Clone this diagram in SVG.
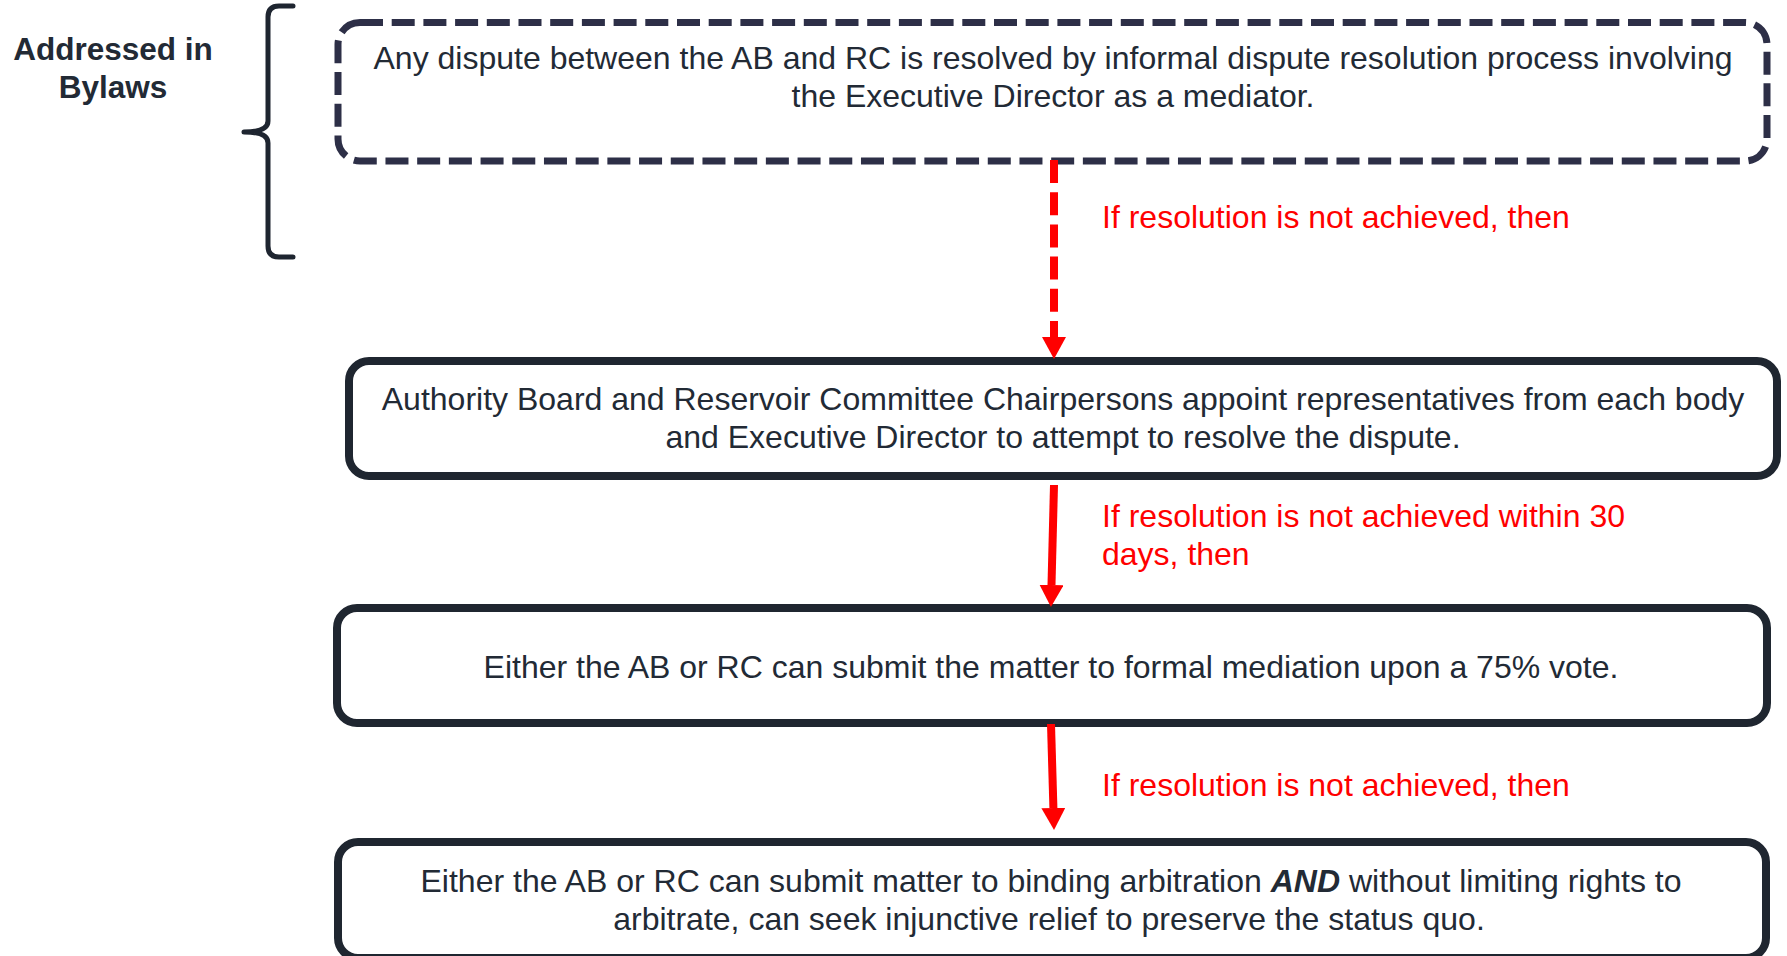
<svg xmlns="http://www.w3.org/2000/svg" width="1787" height="956" viewBox="0 0 1787 956">
  <style>
    .box { fill: #ffffff; stroke: #1f2630; stroke-width: 8; }
    .box-dashed { fill: #ffffff; stroke: #2d2f47; stroke-width: 7; stroke-dasharray: 23 8.7; }
    .txt { font-family: "Liberation Sans", Arial, sans-serif; font-size: 32px; fill: #222a35; text-anchor: middle; }
    .note { font-family: "Liberation Sans", Arial, sans-serif; font-size: 32px; fill: #ff0000; text-anchor: start; }
    .side { font-family: "Liberation Sans", Arial, sans-serif; font-size: 31.5px; font-weight: bold; fill: #222a35; text-anchor: middle; }
    .flow { fill: none; stroke: #ff0000; stroke-width: 8; }
    .brace { fill: none; stroke: #1e2530; stroke-width: 5; stroke-linecap: round; stroke-linejoin: round; }
  </style>
  <defs>
    <marker id="arrowhead" markerUnits="userSpaceOnUse" viewBox="0 0 22 24" markerWidth="22" markerHeight="24" refX="0" refY="12" orient="auto">
      <path d="M0,0 L22,12 L0,24 Z" fill="#ff0000"/>
    </marker>
  </defs>
  <rect width="1787" height="956" fill="#ffffff"/>

  <!-- Side annotation with curly brace -->
  <g id="bylaws-note">
    <text class="side" x="113" y="60">Addressed in</text>
    <text class="side" x="113" y="98">Bylaws</text>
    <path class="brace" d="M293,6 H279 Q268,6 268,17 V121 Q268,132 244,132 Q268,132 268,143 V246 Q268,257 279,257 H293"/>
  </g>

  <!-- Step 1: informal resolution -->
  <g id="step-informal">
    <rect class="box-dashed" x="338" y="22.5" width="1429" height="138.5" rx="22" ry="22"/>
    <text class="txt" x="1053" y="68.5">Any dispute between the AB and RC is resolved by informal dispute resolution process involving</text>
    <text class="txt" x="1053" y="106.5">the Executive Director as a mediator.</text>
  </g>

  <!-- Step 2: chairpersons appoint representatives -->
  <g id="step-representatives">
    <rect class="box" x="349" y="361" width="1428" height="115" rx="20" ry="20"/>
    <text class="txt" x="1063" y="410">Authority Board and Reservoir Committee Chairpersons appoint representatives from each body</text>
    <text class="txt" x="1063" y="448">and Executive Director to attempt to resolve the dispute.</text>
  </g>

  <!-- Step 3: formal mediation -->
  <g id="step-mediation">
    <rect class="box" x="337" y="608" width="1430" height="115" rx="20" ry="20"/>
    <text class="txt" x="1051" y="678">Either the AB or RC can submit the matter to formal mediation upon a 75% vote.</text>
  </g>

  <!-- Step 4: binding arbitration -->
  <g id="step-arbitration">
    <rect class="box" x="338" y="842" width="1428" height="116" rx="20" ry="20"/>
    <text class="txt" x="1051" y="892">Either the AB or RC can submit matter to binding arbitration <tspan font-weight="bold" font-style="italic">AND</tspan> without limiting rights to</text>
    <text class="txt" x="1049" y="930">arbitrate, can seek injunctive relief to preserve the status quo.</text>
  </g>

  <!-- Connectors between steps -->
  <g id="connectors">
    <path class="flow" d="M1054,160 V337" stroke-dasharray="23 9.2" marker-end="url(#arrowhead)"/>
    <path class="flow" d="M1054,485 L1051.5,585" marker-end="url(#arrowhead)"/>
    <path class="flow" d="M1051,724 L1053.4,808" marker-end="url(#arrowhead)"/>
  </g>

  <!-- Connector labels -->
  <g id="connector-labels">
    <text class="note" x="1102" y="227.5">If resolution is not achieved, then</text>
    <text class="note" x="1102" y="526.5">If resolution is not achieved within 30</text>
    <text class="note" x="1102" y="564.5">days, then</text>
    <text class="note" x="1102" y="796">If resolution is not achieved, then</text>
  </g>
</svg>
